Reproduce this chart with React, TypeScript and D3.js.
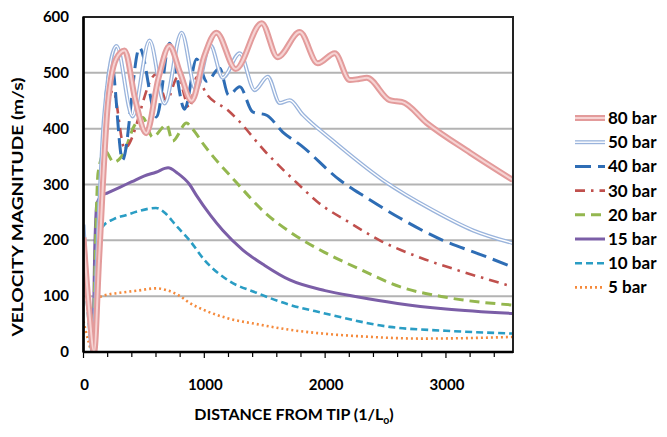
import React from "react";
import * as d3 from "d3";

const xTicks = [0, 1000, 2000, 3000];
const yTicks = [0, 100, 200, 300, 400, 500, 600];
const minorStep = 200;

const seriesNames = ["80 bar", "50 bar", "40 bar", "30 bar", "20 bar", "15 bar", "10 bar", "5 bar"];

const bar80: [number, number][] = [
  [0, 205], [45, 80], [88, 0], [130, 170], [200, 440], [270, 525], [340, 540], [430, 450], [520, 392],
  [620, 490], [712, 548], [800, 500], [895, 450], [1000, 530], [1100, 572], [1260, 507], [1475, 589],
  [1607, 528], [1790, 573], [1939, 517], [2080, 535], [2204, 487], [2280, 489], [2345, 491], [2535, 451],
  [2590, 449], [2635, 448], [2842, 410], [3200, 357], [3554, 308],
];
const bar50: [number, number][] = [
  [0, 228], [40, 90], [80, 0], [110, 160], [170, 420], [273, 548], [406, 422], [547, 558], [671, 445],
  [812, 572], [930, 470], [1050, 550], [1152, 491], [1293, 535], [1417, 469], [1525, 493], [1624, 446],
  [1707, 451], [1815, 425], [2055, 380], [2477, 308], [2891, 254], [3223, 218], [3554, 195],
];
const bar40: [number, number][] = [
  [0, 210], [40, 85], [78, 0], [190, 469], [232, 517], [323, 344], [464, 545], [605, 421], [712, 553],
  [837, 435], [936, 525], [1019, 485], [1127, 508], [1201, 460], [1293, 475], [1400, 430], [1516, 424],
  [1649, 394], [1800, 370], [2121, 308], [2345, 276], [2618, 240], [2974, 200], [3281, 175], [3554, 152],
];
const bar30: [number, number][] = [
  [0, 205], [40, 85], [80, 0], [190, 430], [245, 468], [340, 365], [600, 497], [688, 450], [779, 492],
  [878, 437], [936, 492], [1019, 462], [1200, 432], [1276, 416], [1500, 360], [1790, 298], [1930, 270],
  [2200, 232], [2452, 200], [2800, 168], [3090, 147], [3554, 117],
];
const bar20: [number, number][] = [
  [0, 178], [40, 75], [76, 0], [100, 200], [120, 320], [180, 360], [250, 340], [330, 355], [420, 405],
  [490, 420], [572, 385], [688, 407], [737, 378], [853, 410], [900, 400], [1000, 370], [1268, 303],
  [1500, 250], [1765, 207], [2000, 178], [2300, 147], [2618, 117], [3000, 98], [3554, 84],
];
const bar15: [number, number][] = [
  [0, 210], [45, 70], [75, 0], [95, 200], [110, 265], [150, 280], [200, 285], [300, 295], [400, 305],
  [500, 315], [600, 322], [700, 330], [780, 320], [878, 300], [936, 280], [1050, 245], [1152, 218],
  [1317, 183], [1500, 155], [1707, 129], [2000, 110], [2262, 99], [2600, 87], [3000, 77], [3554, 69],
];
const bar10: [number, number][] = [
  [0, 170], [40, 60], [70, 0], [100, 150], [130, 210], [160, 225], [250, 238], [350, 245], [450, 252],
  [600, 258], [680, 248], [760, 228], [878, 200], [1000, 165], [1200, 128], [1433, 106], [1700, 85],
  [1980, 70], [2535, 45], [3000, 38], [3554, 33],
];
const bar5: [number, number][] = [
  [0, 55], [40, 20], [70, 0], [90, 80], [100, 95], [150, 100], [300, 106], [450, 110], [600, 114],
  [700, 110], [800, 100], [878, 88], [1000, 75], [1200, 60], [1433, 50], [1700, 40], [1980, 33],
  [2300, 28], [2800, 24], [3200, 25], [3554, 27],
];

const seriesData = [bar80, bar50, bar40, bar30, bar20, bar15, bar10, bar5];

type Style = { color: string; width: number; dash?: string; inner?: string; innerWidth?: number };
const styles: Style[] = [
  { color: "#e39b9b", width: 6, inner: "#f6d3d3", innerWidth: 2 },
  { color: "#9ab4dc", width: 4, inner: "#ffffff", innerWidth: 1.4 },
  { color: "#2e6db5", width: 3, dash: "16 7" },
  { color: "#c0504d", width: 2.6, dash: "10 6 2.5 6" },
  { color: "#94b74f", width: 3, dash: "10 6" },
  { color: "#7b5ea7", width: 3 },
  { color: "#2a9dc4", width: 2.6, dash: "7 4" },
  { color: "#f58a3c", width: 2.6, dash: "2 3" },
];

const L = 83.5, R = 513, T = 17, B = 352;
const FONT = "Lato, 'Open Sans', sans-serif";

export default function App() {
  const x = d3.scaleLinear().domain([0, 3555]).range([L, R]);
  const y = d3.scaleLinear().domain([0, 600]).range([B, T]);
  const line = d3.line<[number, number]>().x((d) => x(d[0])).y((d) => y(d[1])).curve(d3.curveMonotoneX);
  const minor = d3.range(0, 3555, minorStep);
  const legendY0 = 118;
  const legendStep = 24.2;
  return (
    <svg width={667} height={437} style={{ display: "block", position: "absolute", left: 0, top: 0, background: "#fff" }}>
      <defs>
        <clipPath id="plot">
          <rect x={L} y={T - 4} width={R - L} height={B - T + 4} />
        </clipPath>
      </defs>
      {yTicks.filter((t) => t > 0 && t < 600).map((t) => (
        <line key={t} x1={L} x2={R} y1={y(t)} y2={y(t)} stroke="#b3b3b3" strokeWidth={2} />
      ))}
      <g clipPath="url(#plot)">
        {seriesData.slice().reverse().map((d, ri) => {
          const i = seriesData.length - 1 - ri;
          const s = styles[i];
          return (
            <g key={i}>
              <path d={line(d) || ""} fill="none" stroke={s.color} strokeWidth={s.width} strokeDasharray={s.dash} strokeLinejoin="round" />
              {s.inner && <path d={line(d) || ""} fill="none" stroke={s.inner} strokeWidth={s.innerWidth} />}
            </g>
          );
        })}
      </g>
      <rect x={L} y={T} width={R - L} height={B - T} fill="none" stroke="#222" strokeWidth={2} />
      <line x1={L} x2={L} y1={T} y2={B} stroke="#000" strokeWidth={2.5} />
      <line x1={L} x2={R} y1={B} y2={B} stroke="#000" strokeWidth={2.5} />
      {minor.map((t) => (
        <line key={t} x1={x(t)} x2={x(t)} y1={B} y2={B + (t % 1000 === 0 ? 6 : 5)} stroke="#000" strokeWidth={1.2} />
      ))}
      {yTicks.map((t) => (
        <text key={t} x={69} y={y(t) + 5} textAnchor="end" fontFamily={FONT} fontWeight={700} fontSize={15} fill="#000">
          {t}
        </text>
      ))}
      {xTicks.map((t) => (
        <text key={t} x={x(t) + 1} y={390} textAnchor="middle" fontFamily={FONT} fontWeight={700} fontSize={15} fill="#000">
          {t}
        </text>
      ))}
      <text transform={`translate(23,207) rotate(-90)`} textAnchor="middle" fontFamily={FONT} fontWeight={700} fontSize={14.5} fill="#000" textLength={259} lengthAdjust="spacingAndGlyphs">
        VELOCITY MAGNITUDE (m/s)
      </text>
      <text x={294} y={420} textAnchor="middle" fontFamily={FONT} fontWeight={700} fontSize={16} fill="#000">
        DISTANCE FROM TIP (1/L<tspan fontSize={10.5} dy={4}>o</tspan><tspan dy={-4}>)</tspan>
      </text>
      {seriesNames.map((n, i) => {
        const s = styles[i];
        const yy = legendY0 + i * legendStep;
        return (
          <g key={n}>
            <line x1={575} x2={605} y1={yy} y2={yy} stroke={s.color} strokeWidth={s.width} strokeDasharray={s.dash} />
            {s.inner && <line x1={575} x2={605} y1={yy} y2={yy} stroke={s.inner} strokeWidth={s.innerWidth} />}
            <text x={608} y={yy + 6} fontFamily={FONT} fontWeight={700} fontSize={17} fill="#000">
              {n}
            </text>
          </g>
        );
      })}
    </svg>
  );
}
